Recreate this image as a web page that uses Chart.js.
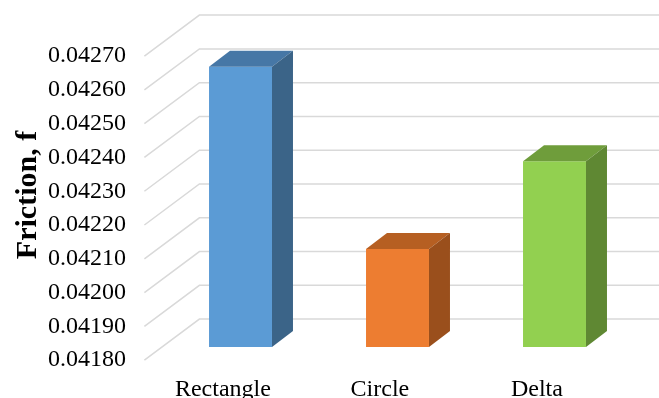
<!DOCTYPE html>
<html>
<head>
<meta charset="utf-8">
<script src="https://cdn.jsdelivr.net/npm/chart.js@4.4.1/dist/chart.umd.min.js"></script>
<style>
  html, body { margin: 0; padding: 0; background: #fff; }
  #wrap { width: 659px; height: 398px; }
</style>
</head>
<body>
<div id="wrap"><canvas id="chart"></canvas></div>
<script>
// data
const categories = ["Rectangle", "Circle", "Delta"];
const friction = [0.04263, 0.04209, 0.04235];
const yTicks = [0.0418, 0.0419, 0.0420, 0.0421, 0.0422, 0.0423, 0.0424, 0.0425, 0.0426, 0.0427];

// bar faces
const frontColors = ["#5B9BD5", "#ED7D31", "#92D050"];
const topColors = ["#4677A6", "#B65F22", "#6F9D3B"];
const sideColors = ["#3B6488", "#9A4F1C", "#5F8833"];

// fake 3D: floor depth and bar depth in pixels
const FLOOR_DX = 55, FLOOR_DY = 41;
const FRONT_FRAC = 0.32;
const BAR_DX = 21, BAR_DY = 16;

const serif = "'Liberation Serif', 'Times New Roman', serif";

// perspective gridlines behind the bars, then top/side faces over them
const gridPlugin = {
  id: "grid3d",
  beforeDatasetsDraw(chart) {
    const { ctx, chartArea } = chart;
    const y = chart.scales.y;
    const fx = chartArea.left - FRONT_FRAC * FLOOR_DX;
    ctx.save();
    ctx.strokeStyle = "#D9D9D9";
    ctx.lineWidth = 1.5;
    yTicks.forEach(v => {
      const yf = y.getPixelForValue(v) + FRONT_FRAC * FLOOR_DY;
      ctx.beginPath();
      ctx.moveTo(fx, yf);
      ctx.lineTo(fx + FLOOR_DX, yf - FLOOR_DY);
      ctx.lineTo(chart.width, yf - FLOOR_DY);
      ctx.stroke();
    });
    ctx.restore();
  },
  afterDatasetsDraw(chart) {
    const { ctx, chartArea } = chart;
    const meta = chart.getDatasetMeta(0);
    const base = chartArea.bottom;
    ctx.save();
    meta.data.forEach((bar, i) => {
      const { x, y, width } = bar.getProps(["x", "y", "width"], true);
      const x1 = x - width / 2, x2 = x + width / 2;
      // top face
      ctx.fillStyle = topColors[i];
      ctx.beginPath();
      ctx.moveTo(x1, y);
      ctx.lineTo(x2, y);
      ctx.lineTo(x2 + BAR_DX, y - BAR_DY);
      ctx.lineTo(x1 + BAR_DX, y - BAR_DY);
      ctx.closePath();
      ctx.fill();
      // side face
      ctx.fillStyle = sideColors[i];
      ctx.beginPath();
      ctx.moveTo(x2, y);
      ctx.lineTo(x2 + BAR_DX, y - BAR_DY);
      ctx.lineTo(x2 + BAR_DX, base - BAR_DY);
      ctx.lineTo(x2, base);
      ctx.closePath();
      ctx.fill();
    });
    ctx.restore();
  }
};

// drop the label overhang padding so the plot area is set by layout only
function noScalePadding(s) {
  s.paddingTop = 0;
  s.paddingBottom = 0;
  s.paddingLeft = 0;
  s.paddingRight = 0;
}

new Chart(document.getElementById("chart"), {
  type: "bar",
  data: {
    labels: categories,
    datasets: [{
      data: friction,
      backgroundColor: frontColors,
      borderWidth: 0,
      barPercentage: 0.401,
      categoryPercentage: 1,
    }],
  },
  options: {
    responsive: true,
    maintainAspectRatio: false,
    animation: false,
    layout: { padding: { top: 43, right: 26, left: 0, bottom: 0 } },
    plugins: { legend: { display: false }, tooltip: { enabled: false } },
    scales: {
      x: {
        grid: { display: false, drawTicks: false },
        border: { display: false },
        ticks: {
          color: "#000",
          padding: 28,
          labelOffset: -FRONT_FRAC * FLOOR_DX,
          font: { family: serif, size: 24 },
        },
        afterFit: s => { s.height = 51; noScalePadding(s); },
      },
      y: {
        min: 0.0418,
        max: 0.0427,
        grid: { display: false, drawTicks: false },
        border: { display: false },
        afterBuildTicks: s => { s.ticks = yTicks.map(v => ({ value: v })); },
        ticks: {
          color: "#000",
          padding: 36,
          labelOffset: FRONT_FRAC * FLOOR_DY,
          font: { family: serif, size: 24 },
          callback: v => v.toFixed(5),
        },
        title: {
          display: true,
          text: "Friction, f",
          color: "#000",
          padding: { top: 10, bottom: 0 },
          font: { family: serif, size: 30, weight: "bold" },
        },
        afterFit: s => { s.width = 162; noScalePadding(s); },
      },
    },
  },
  plugins: [gridPlugin],
});
</script>
</body>
</html>
